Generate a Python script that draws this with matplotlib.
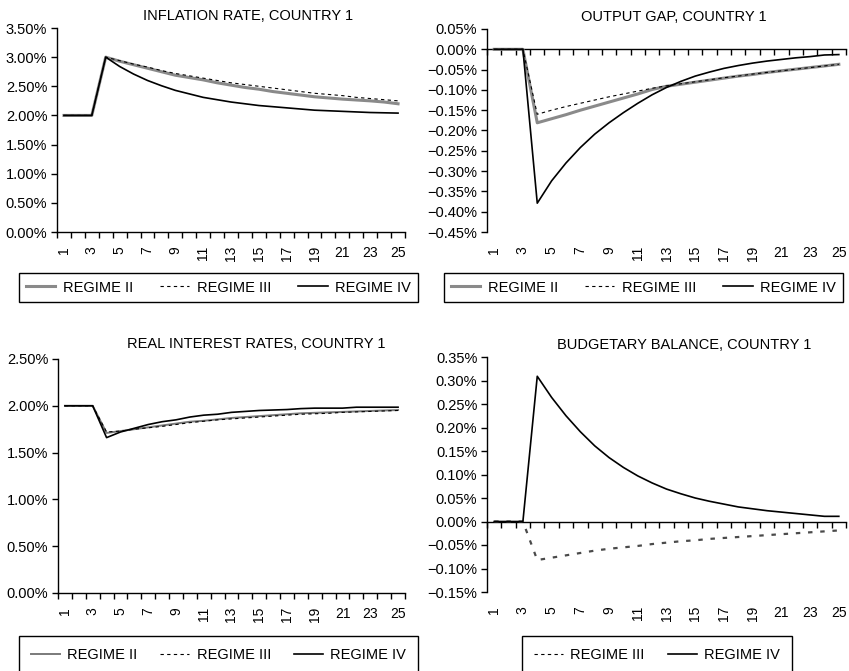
import numpy as np
import matplotlib
matplotlib.use("Agg")
import matplotlib.pyplot as plt
from matplotlib.ticker import MultipleLocator, FuncFormatter

plt.rcParams['font.family'] = ['Liberation Sans', 'DejaVu Sans']
plt.rcParams['font.size'] = 10.5

# periods on the x axis
periods = np.arange(1, 26)

# inflation rate, country 1 (%)
infl_ii = [2.00, 2.00, 2.00, 3.00, 2.93, 2.87, 2.81, 2.75, 2.69, 2.65, 2.61, 2.56, 2.52,
           2.48, 2.45, 2.41, 2.38, 2.35, 2.32, 2.30, 2.28, 2.265, 2.25, 2.23, 2.20]
infl_iii = [2.00, 2.00, 2.00, 3.00, 2.94, 2.88, 2.83, 2.77, 2.72, 2.68, 2.64, 2.60, 2.56,
            2.53, 2.50, 2.47, 2.44, 2.41, 2.38, 2.36, 2.34, 2.31, 2.29, 2.27, 2.25]
infl_iv = [2.00, 2.00, 2.00, 3.00, 2.84, 2.71, 2.60, 2.51, 2.43, 2.37, 2.31, 2.27, 2.23,
           2.20, 2.17, 2.15, 2.13, 2.11, 2.09, 2.08, 2.07, 2.06, 2.05, 2.045, 2.04]

# output gap, country 1 (%)
gap_ii = [0, 0, 0, -0.181, -0.171, -0.161, -0.150, -0.140, -0.130, -0.120, -0.110, -0.099,
          -0.091, -0.086, -0.081, -0.076, -0.071, -0.066, -0.062, -0.057, -0.053, -0.049,
          -0.045, -0.041, -0.037]
gap_iii = [0, 0, 0, -0.160, -0.150, -0.141, -0.133, -0.125, -0.117, -0.110, -0.103, -0.096,
           -0.090, -0.085, -0.080, -0.075, -0.070, -0.066, -0.061, -0.057, -0.053, -0.049,
           -0.045, -0.041, -0.037]
gap_iv = [0, 0, 0, -0.379, -0.324, -0.280, -0.242, -0.209, -0.181, -0.156, -0.133, -0.112,
          -0.094, -0.079, -0.066, -0.056, -0.047, -0.040, -0.034, -0.029, -0.025, -0.021,
          -0.018, -0.014, -0.013]

# real interest rates, country 1 (%)
rate_ii = [2.00, 2.00, 2.00, 1.71, 1.73, 1.75, 1.77, 1.79, 1.81, 1.83, 1.84, 1.855, 1.87,
           1.88, 1.89, 1.90, 1.91, 1.92, 1.925, 1.93, 1.935, 1.94, 1.945, 1.95, 1.955]
rate_iii = [2.00, 2.00, 2.00, 1.72, 1.73, 1.75, 1.765, 1.78, 1.80, 1.82, 1.835, 1.85, 1.86,
            1.87, 1.88, 1.89, 1.90, 1.91, 1.915, 1.92, 1.93, 1.935, 1.94, 1.945, 1.95]
rate_iv = [2.00, 2.00, 2.00, 1.66, 1.72, 1.76, 1.80, 1.83, 1.85, 1.88, 1.90, 1.91, 1.93,
           1.94, 1.95, 1.955, 1.96, 1.97, 1.975, 1.975, 1.975, 1.985, 1.985, 1.985, 1.985]

# budgetary balance, country 1 (%)
bal_iii = [0, 0, 0, -0.082, -0.077, -0.072, -0.067, -0.062, -0.058, -0.055, -0.052, -0.048,
           -0.045, -0.042, -0.040, -0.037, -0.035, -0.033, -0.031, -0.029, -0.027, -0.025,
           -0.023, -0.021, -0.019]
bal_iv = [0, 0, 0, 0.309, 0.264, 0.225, 0.191, 0.161, 0.136, 0.115, 0.097, 0.082, 0.069,
          0.059, 0.050, 0.043, 0.037, 0.031, 0.027, 0.023, 0.020, 0.017, 0.014, 0.011, 0.011]

labels = ["REGIME II", "REGIME III", "REGIME IV"]

GRAY = "#8a8a8a"
W, H = 849, 671


def pct(v, pos):
    if abs(v) < 1e-9:
        return "0.00%"
    return f"{v:.2f}%".replace("-", "\u2212")


def box(x0, y0, x1, y1):
    # pixel box (top-left origin) -> figure fraction rect
    return [x0 / W, 1 - y1 / H, (x1 - x0) / W, (y1 - y0) / H]


def style(ax, ylo, yhi, step, zero_line=False):
    ax.set_xlim(0.5, 25.5)
    ax.set_ylim(ylo, yhi)
    ax.yaxis.set_major_locator(MultipleLocator(step))
    ax.yaxis.set_major_formatter(FuncFormatter(pct))
    ax.tick_params(axis='y', direction='out', length=4, width=1, pad=3, labelsize=10.5)
    for s in ['top', 'right']:
        ax.spines[s].set_visible(False)
    ax.spines['left'].set_linewidth(1)
    bounds = np.arange(0.5, 26, 1)
    odd = periods[::2]
    ax.set_xticks(odd, minor=True)
    ax.set_xticklabels([str(p) for p in odd], minor=True, rotation=90)
    ax.tick_params(axis='x', which='minor', length=0, pad=10, labelsize=10)
    if zero_line:
        # category axis crosses at zero, labels stay at the bottom
        ax.spines['bottom'].set_visible(False)
        ax.set_xticks([])
        frac = (0 - ylo) / (yhi - ylo)
        sec = ax.secondary_xaxis(frac)
        sec.set_alignment('bottom')
        sec.set_xticks(bounds)
        sec.tick_params(direction='out', length=4, width=1, labelbottom=False, labeltop=False)
        sec.spines['bottom'].set_linewidth(1)
    else:
        ax.spines['bottom'].set_linewidth(1)
        ax.set_xticks(bounds)
        ax.set_xticklabels([])
        ax.tick_params(axis='x', which='major', direction='out', length=4, width=1)


def legend(ax, handles, x0, x1, yc, bpad):
    lg = ax.legend(handles=handles, loc='center', ncol=len(handles), mode='expand',
                   bbox_to_anchor=(x0 / W, 1 - yc / H, (x1 - x0) / W, 0),
                   bbox_transform=fig.transFigure, borderaxespad=0, fancybox=False,
                   edgecolor='black', framealpha=1, handlelength=2.0, handletextpad=0.5,
                   borderpad=bpad, fontsize=10.5)
    lg.get_frame().set_linewidth(1)


fig = plt.figure(figsize=(8.49, 6.71), dpi=100)

# inflation
ax1 = fig.add_axes(box(57, 28, 405, 232))
h2, = ax1.plot(periods, infl_ii, color=GRAY, lw=2.2, label=labels[0])
h3, = ax1.plot(periods, infl_iii, color='black', lw=0.8, ls=(0, (3, 3)), label=labels[1])
h4, = ax1.plot(periods, infl_iv, color='black', lw=1.2, label=labels[2])
style(ax1, 0, 3.5, 0.5)
ax1.set_title("INFLATION RATE, COUNTRY 1", x=0.55, pad=6, fontsize=10.5)
legend(ax1, [h2, h3, h4], 19, 418, 287.5, 0.5)

# output gap
ax2 = fig.add_axes(box(487, 29, 846, 232))
h2, = ax2.plot(periods, gap_ii, color=GRAY, lw=2.2, label=labels[0])
h3, = ax2.plot(periods, gap_iii, color='black', lw=0.8, ls=(0, (3, 3)), label=labels[1])
h4, = ax2.plot(periods, gap_iv, color='black', lw=1.2, label=labels[2])
style(ax2, -0.45, 0.05, 0.05, zero_line=True)
ax2.set_title("OUTPUT GAP, COUNTRY 1", x=0.52, pad=6, fontsize=10.5)
legend(ax2, [h2, h3, h4], 444, 843, 287.5, 0.5)

# real interest rates
ax3 = fig.add_axes(box(58, 359, 405, 593))
h2, = ax3.plot(periods, rate_ii, color='#7a7a7a', lw=1.4, label=labels[0])
h3, = ax3.plot(periods, rate_iii, color='black', lw=0.8, ls=(0, (3, 3)), label=labels[1])
h4, = ax3.plot(periods, rate_iv, color='black', lw=1.2, label=labels[2])
style(ax3, 0, 2.5, 0.5)
ax3.set_title("REAL INTEREST RATES, COUNTRY 1", x=0.57, pad=8, fontsize=10.5)
legend(ax3, [h2, h3, h4], 19, 418, 655, 0.8)

# budgetary balance
ax4 = fig.add_axes(box(487, 357, 846, 592))
h3, = ax4.plot(periods, bal_iii, color='#4a4a4a', lw=1.6, ls=(0, (2, 3.5)), label=labels[1])
h4, = ax4.plot(periods, bal_iv, color='black', lw=1.2, label=labels[2])
style(ax4, -0.15, 0.35, 0.05, zero_line=True)
ax4.set_title("BUDGETARY BALANCE, COUNTRY 1", x=0.55, pad=6, fontsize=10.5)
leg3 = matplotlib.lines.Line2D([], [], color='black', lw=0.8, ls=(0, (3, 3)), label=labels[1])
legend(ax4, [leg3, h4], 522, 792, 655, 0.8)

fig.savefig("out.png", dpi=100)
